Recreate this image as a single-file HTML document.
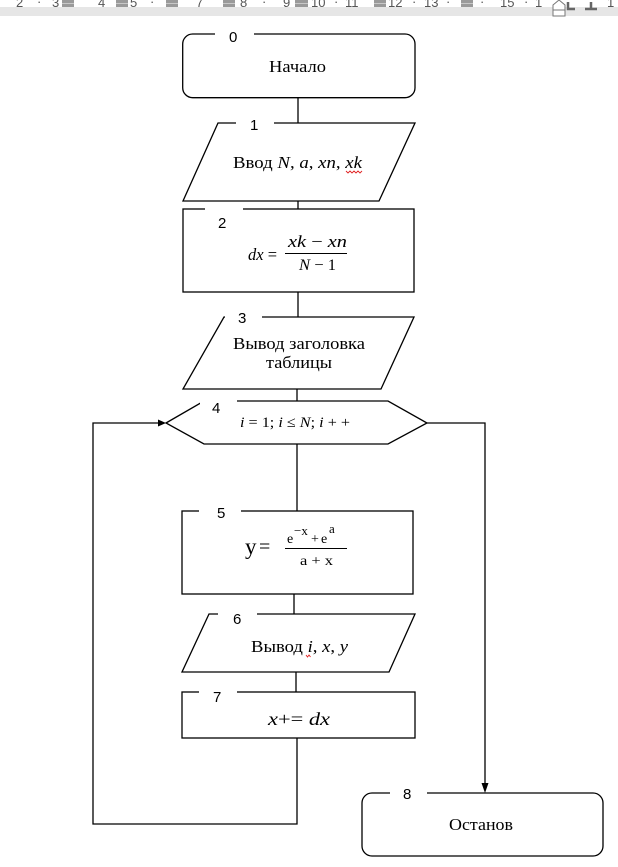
<!DOCTYPE html>
<html>
<head>
<meta charset="utf-8">
<style>
html,body{margin:0;padding:0;background:#fff;}
body{width:618px;height:867px;overflow:hidden;position:relative;}
svg{display:block;}
.t{font-family:"Liberation Serif",serif;fill:#000;}
.m{font-family:"Liberation Serif",serif;font-style:italic;fill:#000;}
.n{font-family:"Liberation Sans",sans-serif;fill:#000;font-size:15px;}
.r{font-family:"Liberation Sans",sans-serif;fill:#555;font-size:13px;}
</style>
</head>
<body>
<svg width="618" height="867" viewBox="0 0 618 867" xmlns="http://www.w3.org/2000/svg">
  <!-- ruler -->
  <rect x="0" y="0" width="618" height="7" fill="#fff"/>
  <g class="r">
    <text x="16" y="7">2</text>
    <text x="37" y="6">·</text>
    <text x="52" y="7">3</text>
    <text x="98" y="7">4</text>
    <text x="130" y="7">5</text>
    <text x="150" y="6">·</text>
    <text x="196" y="7">7</text>
    <text x="240" y="7">8</text>
    <text x="262" y="6">·</text>
    <text x="283" y="7">9</text>
    <text x="311" y="7">10</text>
    <text x="334" y="6">·</text>
    <text x="345" y="7">11</text>
    <text x="388" y="7">12</text>
    <text x="412" y="6">·</text>
    <text x="424" y="7">13</text>
    <text x="446" y="6">·</text>
    <text x="480" y="6">·</text>
    <text x="500" y="7">15</text>
    <text x="524" y="6">·</text>
    <text x="535" y="7">1</text>
    <text x="607" y="7">1</text>
  </g>
  <rect x="0" y="7" width="618" height="9" fill="#e6e6e6"/>
  <g fill="#9a9a9a">
    <rect x="62" y="0" width="12" height="7"/>
    <rect x="116" y="0" width="12" height="7"/>
    <rect x="166" y="0" width="12" height="7"/>
    <rect x="223" y="0" width="12" height="7"/>
    <rect x="295" y="0" width="13" height="7"/>
    <rect x="374" y="0" width="12" height="7"/>
    <rect x="461" y="0" width="12" height="7"/>
  </g>
  <g stroke="#c8c8c8" stroke-width="1">
    <line x1="62" y1="3.5" x2="74" y2="3.5"/><line x1="116" y1="3.5" x2="128" y2="3.5"/>
    <line x1="166" y1="3.5" x2="178" y2="3.5"/><line x1="223" y1="3.5" x2="235" y2="3.5"/>
    <line x1="295" y1="3.5" x2="308" y2="3.5"/><line x1="374" y1="3.5" x2="386" y2="3.5"/>
    <line x1="461" y1="3.5" x2="473" y2="3.5"/>
  </g>
  <!-- indent marker -->
  <path d="M553,5 L559,0 L565,5 L565,10 L553,10 Z" fill="#fff" stroke="#777" stroke-width="1"/>
  <rect x="553" y="10" width="12" height="6" fill="#fff" stroke="#777" stroke-width="1"/>
  <!-- tab stops -->
  <path d="M568,2 L568,9 L575,9" fill="none" stroke="#666" stroke-width="2.5"/>
  <path d="M591,2 L591,9 M585,9 L597,9" fill="none" stroke="#666" stroke-width="2.5"/>

  <g fill="none" stroke="#000" stroke-width="1.3">
    <!-- connectors -->
    <line x1="298" y1="98" x2="298" y2="123"/>
    <line x1="298" y1="201" x2="298" y2="209"/>
    <line x1="298" y1="292" x2="298" y2="317"/>
    <line x1="297" y1="389" x2="297" y2="401"/>
    <line x1="297" y1="444" x2="297" y2="511"/>
    <line x1="294" y1="594" x2="294" y2="614"/>
    <line x1="296" y1="672" x2="296" y2="692"/>
    <polyline points="297,738 297,824 93,824 93,423 160,423"/>
    <polyline points="427,423 485,423 485,784"/>

    <!-- 0 -->
    <rect x="182.7" y="34" width="232.3" height="63.7" rx="10" ry="10"/>
    <!-- 1 -->
    <polygon points="218,123 415,123 379,201 183,201"/>
    <!-- 2 -->
    <rect x="183" y="209" width="231" height="83"/>
    <!-- 3 -->
    <polygon points="224,317 414,317 381,389 183,389"/>
    <!-- 4 -->
    <polygon points="166,423 204,401 388,401 427,423 388,444 204,444"/>
    <!-- 5 -->
    <rect x="182" y="511" width="231" height="83"/>
    <!-- 6 -->
    <polygon points="209,614 415,614 389,672 182,672"/>
    <!-- 7 -->
    <rect x="182" y="692" width="233" height="46"/>
    <!-- 8 -->
    <rect x="362" y="793" width="241" height="63" rx="10" ry="10"/>
  </g>
  <!-- arrowheads -->
  <polygon points="158,419.5 166,423 158,426.5" fill="#000"/>
  <polygon points="481.5,783 488.5,783 485,793" fill="#000"/>

  <!-- gaps for labels -->
  <g fill="#fff">
    <rect x="215" y="31" width="39" height="6"/>
    <rect x="236" y="120" width="38" height="6"/>
    <rect x="205" y="206" width="38" height="6"/>
    <rect x="225" y="314" width="37" height="6"/>
    <rect x="200" y="398" width="37" height="7"/>
    <rect x="199" y="508" width="42" height="6"/>
    <rect x="218" y="611" width="39" height="6"/>
    <rect x="199" y="689" width="38" height="6"/>
    <rect x="390" y="790" width="37" height="6"/>
  </g>

  <!-- labels -->
  <text class="n" x="229" y="42">0</text>
  <text class="n" x="250" y="130">1</text>
  <text class="n" x="218" y="228">2</text>
  <text class="n" x="238" y="323">3</text>
  <text class="n" x="212" y="413">4</text>
  <text class="n" x="217" y="518">5</text>
  <text class="n" x="233" y="624">6</text>
  <text class="n" x="213" y="702">7</text>
  <text class="n" x="403" y="799">8</text>

  <!-- texts -->
  <text class="t" x="269" y="72" font-size="17" textLength="57" lengthAdjust="spacingAndGlyphs">Начало</text>

  <text class="t" x="233" y="168" font-size="17" textLength="129" lengthAdjust="spacingAndGlyphs">Ввод <tspan font-style="italic">N</tspan>, <tspan font-style="italic">a</tspan>, <tspan font-style="italic">xn</tspan>, <tspan font-style="italic">xk</tspan></text>
  <path d="M346,171 l2,2 l2,-2 l2,2 l2,-2 l2,2 l2,-2 l2,2 l2,-2" fill="none" stroke="#e02020" stroke-width="0.9"/>

  <!-- dx formula -->
  <text class="m" x="248" y="260" font-size="17" textLength="29" lengthAdjust="spacingAndGlyphs">dx <tspan font-style="normal">=</tspan></text>
  <text class="m" x="288" y="247" font-size="17" textLength="59" lengthAdjust="spacingAndGlyphs">xk <tspan font-style="normal">−</tspan> xn</text>
  <line x1="285" y1="253.5" x2="347" y2="253.5" stroke="#000" stroke-width="1.1"/>
  <text class="m" x="299" y="270" font-size="16" textLength="37" lengthAdjust="spacingAndGlyphs">N <tspan font-style="normal">− 1</tspan></text>

  <text class="t" x="233" y="349" font-size="17" textLength="132" lengthAdjust="spacingAndGlyphs">Вывод заголовка</text>
  <text class="t" x="266" y="368" font-size="17" textLength="66" lengthAdjust="spacingAndGlyphs">таблицы</text>

  <text class="m" x="240" y="427" font-size="15" textLength="110" lengthAdjust="spacingAndGlyphs">i <tspan font-style="normal">= 1;</tspan> i <tspan font-style="normal">≤</tspan> N<tspan font-style="normal">;</tspan> i <tspan font-style="normal">+ +</tspan></text>

  <!-- y formula -->
  <text class="t" x="245" y="554" font-size="23">y</text>
  <text class="t" x="259" y="553" font-size="20">=</text>
  <text class="t" x="287" y="543" font-size="14">e</text>
  <text class="t" x="294" y="535" font-size="13">−x</text>
  <text class="t" x="311" y="543" font-size="14">+</text>
  <text class="t" x="321" y="543" font-size="14">e</text>
  <text class="t" x="329" y="533" font-size="13">a</text>
  <line x1="285" y1="548.5" x2="347" y2="548.5" stroke="#000" stroke-width="1.1"/>
  <text class="t" x="300" y="565" font-size="14" textLength="33" lengthAdjust="spacingAndGlyphs">a + x</text>

  <text class="t" x="251" y="652" font-size="17" textLength="97" lengthAdjust="spacingAndGlyphs">Вывод <tspan font-style="italic">i</tspan>, <tspan font-style="italic">x</tspan>, <tspan font-style="italic">y</tspan></text>
  <path d="M306,655 l1.5,2 l1.5,-2 l1.5,2" fill="none" stroke="#e02020" stroke-width="0.9"/>

  <text class="m" x="268" y="725" font-size="18" textLength="62" lengthAdjust="spacingAndGlyphs">x<tspan font-style="normal">+=</tspan> dx</text>

  <text class="t" x="449" y="830" font-size="17" textLength="64" lengthAdjust="spacingAndGlyphs">Останов</text>
</svg>
</body>
</html>
